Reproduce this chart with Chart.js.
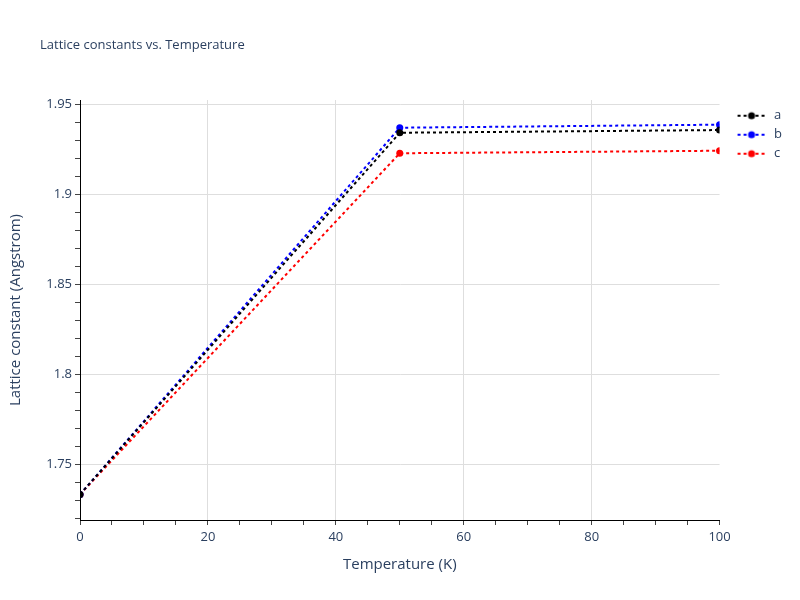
<!DOCTYPE html>
<html>
<head>
<meta charset="utf-8">
<script src="https://cdn.jsdelivr.net/npm/chart.js@4.4.1/dist/chart.umd.min.js"></script>
<style>
    body { margin: 0; background: #fff; }
    canvas { display: block; }
</style>
</head>
<body>
<canvas id="latticeChart" width="800" height="600"></canvas>
<script>
// Lattice constants vs. Temperature

const temperatures = [0, 50, 100];
const latticeA = [1.7332, 1.9342, 1.9357];
const latticeB = [1.7332, 1.9370, 1.9387];
const latticeC = [1.7332, 1.9228, 1.9242];

const xLabels = [0, 20, 40, 60, 80, 100];
const yLabels = [1.75, 1.8, 1.85, 1.9, 1.95];

const TEXT = '#2a3f5f';
const GRID = '#dedede';
const FONT = "'Open Sans', 'DejaVu Sans', sans-serif";

function isLabel(list, v) {
    return list.some(l => Math.abs(l - v) < 1e-6);
}

// dotted line + marker used as legend symbol
function legendSymbol(color) {
    const c = document.createElement('canvas');
    c.width = 42;
    c.height = 10;
    const g = c.getContext('2d');
    g.strokeStyle = color;
    g.lineWidth = 2;
    g.setLineDash([3, 3]);
    g.beginPath();
    g.moveTo(12, 5);
    g.lineTo(40, 5);
    g.stroke();
    g.fillStyle = color;
    g.beginPath();
    g.arc(26, 5, 3.5, 0, Math.PI * 2);
    g.fill();
    return c;
}

function makeSeries(label, values, color) {
    return {
        label: label,
        data: temperatures.map((t, i) => ({ x: t, y: values[i] })),
        borderColor: color,
        backgroundColor: color,
        borderWidth: 2,
        borderDash: [3, 3],
        pointRadius: 3.5,
        pointHoverRadius: 4,
        pointBorderWidth: 0,
        pointStyle: 'circle',
        legendIcon: legendSymbol(color),
        tension: 0,
        fill: false
    };
}

const plotTitle = {
    id: 'plotTitle',
    afterDraw(chart) {
        const ctx = chart.ctx;
        ctx.save();
        ctx.font = '13px ' + FONT;
        ctx.fillStyle = TEXT;
        ctx.textBaseline = 'middle';
        ctx.textAlign = 'left';
        ctx.fillText('Lattice constants vs. Temperature', 40, 45);
        ctx.restore();
    }
};

new Chart(document.getElementById('latticeChart').getContext('2d'), {
    type: 'line',
    data: {
        datasets: [
            makeSeries('a', latticeA, '#000000'),
            makeSeries('b', latticeB, '#0000ff'),
            makeSeries('c', latticeC, '#ff0000')
        ]
    },
    options: {
        responsive: false,
        animation: false,
        devicePixelRatio: 1,
        layout: { padding: { top: 100, left: 0, right: 8, bottom: 0 } },
        plugins: {
            legend: {
                position: 'right',
                align: 'start',
                title: {
                    display: true,
                    text: '',
                    font: { size: 1 },
                    padding: { top: 1, bottom: 1 }
                },
                labels: {
                    usePointStyle: true,
                    pointStyleWidth: 42,
                    padding: 6,
                    color: TEXT,
                    font: { family: FONT, size: 13 },
                    generateLabels: (chart) => chart.data.datasets.map((ds, i) => ({
                        text: ds.label,
                        pointStyle: ds.legendIcon,
                        fillStyle: ds.borderColor,
                        strokeStyle: ds.borderColor,
                        lineWidth: 0,
                        fontColor: TEXT,
                        hidden: false,
                        datasetIndex: i
                    }))
                }
            },
            tooltip: { enabled: false }
        },
        scales: {
            x: {
                type: 'linear',
                min: 0,
                max: 100,
                afterFit: (scale) => { scale.height = 80; },
                border: { display: true, color: '#000', width: 1 },
                grid: {
                    drawOnChartArea: true,
                    tickLength: 5,
                    tickColor: '#444',
                    color: (c) => (c.tick && isLabel(xLabels, c.tick.value) && c.tick.value > 0 && c.tick.value < 100) ? GRID : 'rgba(0,0,0,0)'
                },
                ticks: {
                    stepSize: 5,
                    autoSkip: false,
                    maxRotation: 0,
                    padding: 4,
                    color: TEXT,
                    font: { family: FONT, size: 13 },
                    callback: (v) => isLabel(xLabels, v) ? String(v) : ''
                },
                title: {
                    display: true,
                    text: 'Temperature (K)',
                    color: TEXT,
                    font: { family: FONT, size: 15 },
                    padding: { top: 0, bottom: 26 }
                }
            },
            y: {
                type: 'linear',
                min: 1.719,
                max: 1.9524,
                afterFit: (scale) => { scale.width = 80; },
                border: { display: true, color: '#000', width: 1 },
                grid: {
                    tickLength: 5,
                    tickColor: '#444',
                    color: (c) => (c.tick && isLabel(yLabels, c.tick.value)) ? GRID : 'rgba(0,0,0,0)'
                },
                ticks: {
                    stepSize: 0.01,
                    includeBounds: false,
                    autoSkip: false,
                    padding: 3,
                    color: TEXT,
                    font: { family: FONT, size: 13 },
                    callback: (v) => isLabel(yLabels, v) ? String(Number(v.toFixed(2))) : ''
                },
                title: {
                    display: true,
                    text: 'Lattice constant (Angstrom)',
                    color: TEXT,
                    font: { family: FONT, size: 15 },
                    padding: { top: 7, bottom: 0 }
                }
            }
        }
    },
    plugins: [plotTitle]
});
</script>
</body>
</html>
